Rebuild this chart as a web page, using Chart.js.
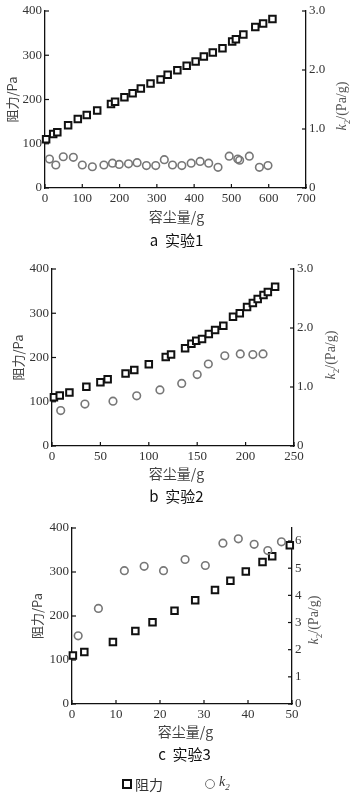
<!DOCTYPE html>
<html>
<head>
<meta charset="utf-8">
<script src="https://cdn.jsdelivr.net/npm/chart.js@4.4.1/dist/chart.umd.min.js"></script>
<style>
  body { margin: 0; background: #fff; width: 353px; height: 799px; position: relative; overflow: hidden; }
  canvas { position: absolute; left: 0; }
  .xt { position: absolute; left: 0; width: 353px; text-align: center; font: 14px "Noto Sans CJK SC"; color: #444; }
  .cap { position: absolute; left: 0; width: 353px; text-align: center; font: 15px "Noto Sans CJK SC"; color: #111; }
  .rt { position: absolute; width: 100px; margin-left: -50px; margin-top: -9px; height: 18px; line-height: 18px;
        text-align: center; transform: rotate(-90deg); font: 14px "Liberation Serif"; color: #555; white-space: nowrap; }
  .rt i { font-style: italic; }
  .rt sub { font-size: 9px; }
  .leg { position: absolute; top: 774px; font: 14px "Noto Sans CJK SC"; color: #333; }
  .sq { position: absolute; top: 779px; width: 6px; height: 6px; border: 2px solid #111; }
  .ci { position: absolute; top: 779px; width: 8px; height: 8px; border: 1.5px solid #777; border-radius: 50%; }
</style>
</head>
<body>
<canvas id="chartA" width="353" height="208" style="top:0px"></canvas>
<div class="rt" style="left:343px;top:106px"><i>k</i><sub>2</sub>/(Pa/g)</div>
<div class="xt" style="top:206px">容尘量/g</div>
<div class="cap" style="top:229px">a&nbsp; 实验1</div>

<canvas id="chartB" width="353" height="216" style="top:250px"></canvas>
<div class="rt" style="left:332px;top:355px"><i>k</i><sub>2</sub>/(Pa/g)</div>
<div class="xt" style="top:463px">容尘量/g</div>
<div class="cap" style="top:485px">b&nbsp; 实验2</div>

<canvas id="chartC" width="353" height="214" style="top:510px"></canvas>
<div class="rt" style="left:315px;top:620px"><i>k</i><sub>2</sub>/(Pa/g)</div>
<div class="xt" style="top:721px;left:9px">容尘量/g</div>
<div class="cap" style="top:743px;left:8px">c&nbsp; 实验3</div>

<div class="sq" style="left:122px"></div>
<div class="leg" style="left:135px">阻力</div>
<div class="ci" style="left:205px"></div>
<div class="leg" style="left:219px;font-family:'Liberation Serif';font-style:italic">k<sub style="font-size:9px">2</sub></div>

<script>
// experiment 1
const dustA = [3, 22, 33, 62, 88, 112, 140, 177, 188, 213, 235, 257, 283, 310, 329, 355, 380, 404, 426, 450, 476, 502, 512, 532, 564, 585, 610];
const resistA = [110, 122, 126, 142, 156, 165, 175, 190, 195, 205, 214, 225, 236, 245, 256, 266, 276, 286, 297, 306, 316, 331, 336, 347, 364, 372, 382];
const kDustA = [12, 29, 49, 76, 100, 127, 158, 181, 199, 224, 247, 272, 297, 320, 342, 367, 392, 416, 439, 464, 494, 517, 522, 548, 575, 598];
const kA = [0.49, 0.39, 0.53, 0.52, 0.39, 0.36, 0.39, 0.42, 0.40, 0.41, 0.43, 0.38, 0.38, 0.48, 0.39, 0.38, 0.42, 0.45, 0.42, 0.35, 0.54, 0.49, 0.47, 0.54, 0.35, 0.38];

// experiment 2
const dustB = [2, 8, 18, 35.5, 50, 57.5, 76, 85, 100, 117.5, 123, 137.5, 144, 149, 155, 162, 168.5, 177, 187, 194, 201.5, 207.5, 212.5, 218.5, 223, 230.5];
const resistB = [110, 114, 121, 134, 144, 151, 164, 172, 185, 201, 207, 221, 231, 238, 242, 253, 262, 272, 292, 300, 314, 323, 332, 341, 348, 360];
const kDustB = [9, 34, 63, 87.5, 111.5, 134, 150, 161.5, 178.5, 194.5, 207.5, 218];
const kB = [0.60, 0.71, 0.76, 0.85, 0.95, 1.06, 1.21, 1.39, 1.53, 1.56, 1.55, 1.56];

// experiment 3
const dustC = [0.2, 2.8, 9.3, 14.4, 18.3, 23.3, 28, 32.5, 36, 39.5, 43.3, 45.5, 49.5];
const resistC = [110, 118, 141, 166, 186, 212, 236, 259, 280, 301, 323, 336, 361];
const kDustC = [1.4, 6, 11.9, 16.4, 20.8, 25.7, 30.3, 34.3, 37.8, 41.4, 44.5, 47.6];
const kC = [2.51, 3.52, 4.91, 5.07, 4.91, 5.32, 5.10, 5.92, 6.08, 5.88, 5.65, 5.97];

const serif = 'Liberation Serif';

const pts = (xs, ys) => xs.map((x, i) => ({ x, y: ys[i] }));

// ticks drawn inside the plot, like the original figure
const inwardTicks = {
  id: 'inwardTicks',
  afterDatasetsDraw(chart) {
    const ctx = chart.ctx;
    const a = chart.chartArea;
    ctx.save();
    ctx.strokeStyle = '#111';
    ctx.lineWidth = 1.2;
    Object.values(chart.scales).forEach(s => {
      s.ticks.forEach((t, i) => {
        const p = s.getPixelForTick(i);
        ctx.beginPath();
        if (s.axis === 'x') { ctx.moveTo(p, a.bottom); ctx.lineTo(p, a.bottom - 4); }
        else if (s.options.position === 'left') { ctx.moveTo(a.left, p); ctx.lineTo(a.left + 4, p); }
        else { ctx.moveTo(a.right, p); ctx.lineTo(a.right - 4, p); }
        ctx.stroke();
      });
    });
    ctx.restore();
  }
};

function makeChart(id, cfg) {
  const squares = {
    label: '阻力',
    data: pts(cfg.dust, cfg.resist),
    yAxisID: 'y',
    pointStyle: 'rect',
    pointRadius: 4.6,
    pointBorderWidth: 2,
    pointBorderColor: '#111',
    pointBackgroundColor: '#fff',
    showLine: false,
    clip: false
  };
  const circles = {
    label: 'k2',
    data: pts(cfg.kDust, cfg.k),
    yAxisID: 'y1',
    pointStyle: 'circle',
    pointRadius: 3.8,
    pointBorderWidth: 1.6,
    pointBorderColor: '#777',
    pointBackgroundColor: 'rgba(0,0,0,0)',
    showLine: false,
    clip: false
  };
  return new Chart(document.getElementById(id), {
    type: 'scatter',
    data: { datasets: cfg.kFirst ? [circles, squares] : [squares, circles] },
    options: {
      responsive: false,
      animation: false,
      layout: { padding: { top: cfg.top, right: 0, left: 0, bottom: 0 } },
      plugins: { legend: { display: false }, tooltip: { enabled: false } },
      scales: {
        x: {
          type: 'linear',
          min: 0, max: cfg.xMax,
          afterFit: s => { s.height = 20; },
          ticks: { stepSize: cfg.xStep, padding: 3, color: '#333', font: { family: serif, size: 13 } },
          grid: { display: false, drawTicks: false },
          border: { color: '#111', width: 1.3 }
        },
        y: {
          position: 'left',
          min: 0, max: 400,
          afterFit: s => { s.width = cfg.left; },
          ticks: { stepSize: 100, padding: 3, color: '#333', font: { family: serif, size: 13 } },
          grid: { display: false, drawTicks: false },
          border: { color: '#111', width: 1.3 },
          title: { display: true, text: '阻力/Pa', color: '#444', padding: { top: cfg.lt, bottom: 0 },
                   font: { family: 'Noto Sans CJK SC', size: 13 } }
        },
        y1: {
          position: 'right',
          min: 0, max: cfg.kMax,
          afterFit: s => { s.width = 353 - cfg.right; },
          ticks: {
            stepSize: 1, padding: 3, includeBounds: false, color: '#333',
            font: { family: serif, size: 13 },
            callback: v => (v === 0 || !cfg.kDecimals) ? String(v) : v.toFixed(1)
          },
          grid: { display: false, drawTicks: false },
          border: { color: '#111', width: 1.3 }
        }
      }
    },
    plugins: [inwardTicks]
  });
}

makeChart('chartA', {
  dust: dustA, resist: resistA, kDust: kDustA, k: kA,
  xMax: 700, xStep: 100, kMax: 3, kDecimals: true,
  top: 11, left: 45, right: 306, lt: 4
});

makeChart('chartB', {
  dust: dustB, resist: resistB, kDust: kDustB, k: kB,
  xMax: 250, xStep: 50, kMax: 3, kDecimals: true,
  top: 19, left: 52, right: 294, lt: 10
});

makeChart('chartC', {
  dust: dustC, resist: resistC, kDust: kDustC, k: kC, kFirst: true,
  xMax: 50, xStep: 10, kMax: 6.48, kDecimals: false,
  top: 18, left: 72, right: 292, lt: 29
});
</script>
</body>
</html>
